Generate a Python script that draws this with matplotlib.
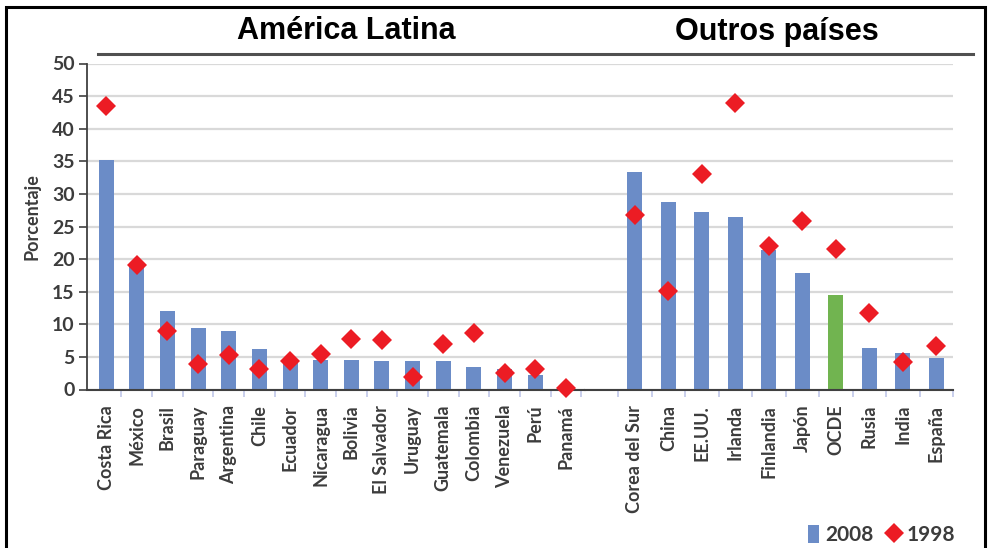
import matplotlib
matplotlib.use("Agg")
import matplotlib.pyplot as plt
import numpy as np
from matplotlib.lines import Line2D
from matplotlib.patches import Patch, Rectangle

# ---- data ----
latam_countries = ["Costa Rica", "México", "Brasil", "Paraguay", "Argentina", "Chile",
                   "Ecuador", "Nicaragua", "Bolivia", "El Salvador", "Uruguay",
                   "Guatemala", "Colombia", "Venezuela", "Perú", "Panamá"]
latam_2008 = [35.2, 19.3, 12.1, 9.4, 8.9, 6.2, 4.6, 4.5, 4.5, 4.3, 4.3, 4.3, 3.5, 3.2, 2.3, 0.0]
latam_1998 = [43.5, 19.1, 9.0, 3.9, 5.3, 3.2, 4.4, 5.4, 7.8, 7.6, 1.9, 7.0, 8.7, 2.5, 3.1, 0.3]

other_countries = ["Corea del Sur", "China", "EE.UU.", "Irlanda", "Finlandia", "Japón",
                   "OCDE", "Rusia", "India", "España"]
other_2008 = [33.4, 28.7, 27.2, 26.5, 21.4, 17.9, 14.5, 6.4, 5.6, 4.9]
other_1998 = [26.7, 15.1, 33.0, 44.0, 22.0, 25.9, 21.6, 11.8, 4.2, 6.7]

yticks = [0, 5, 10, 15, 20, 25, 30, 35, 40, 45, 50]

# ---- style ----
W, H = 990, 548
BLUE = "#6b8cc7"
GREEN = "#71b450"
RED = "#ec1c24"
TXT = "#3c3c3c"
GRID = "#d9d9d9"
SEP = "#c5cbeb"
FONT = ["Lato", "DejaVu Sans"]
MS = 10

plt.rcParams["font.family"] = FONT

fig = plt.figure(figsize=(W / 100, H / 100), dpi=100)


def rect(x0, y0, x1, y1):
    return [x0 / W, 1 - y1 / H, (x1 - x0) / W, (y1 - y0) / H]


ax1 = fig.add_axes(rect(87, 63.5, 585, 389.5))
ax2 = fig.add_axes(rect(585, 63.5, 953, 389.5))

# Latin America panel
n1 = len(latam_countries)
x1 = np.arange(n1)
ax1.set_xlim(-0.62, n1 - 1 + 0.62)
bw1 = 15 / 30.67
ax1.bar(x1, latam_2008, width=bw1, color=BLUE, zorder=2)
ax1.plot(x1, latam_1998, linestyle="none", marker="D", ms=MS, color=RED,
         markeredgewidth=0, zorder=4, clip_on=False)

# other countries panel
n2 = len(other_countries)
x2 = np.arange(n2)
ax2.set_xlim(-1.49, n2 - 1 + 0.49)
bw2 = 15 / 33.52
colors2 = [GREEN if c == "OCDE" else BLUE for c in other_countries]
ax2.bar(x2, other_2008, width=bw2, color=colors2, zorder=2)
ax2.plot(x2, other_1998, linestyle="none", marker="D", ms=MS, color=RED,
         markeredgewidth=0, zorder=4, clip_on=False)

for ax, x, labels in [(ax1, x1, latam_countries), (ax2, x2, other_countries)]:
    ax.set_ylim(0, 50)
    ax.set_yticks(yticks)
    ax.yaxis.grid(True, color=GRID, lw=1.6, zorder=0)
    ax.set_axisbelow(True)
    ax.set_xticks(x)
    ax.set_xticklabels(labels, rotation=90, fontsize=13, fontweight="bold",
                       color=TXT, va="top", ha="center")
    seps = np.arange(-0.5, len(x) - 0.5 + 1e-9, 1.0)
    ax.set_xticks(seps[1:] if ax is ax1 else seps, minor=True)
    ax.tick_params(axis="x", which="major", length=0, pad=11)
    ax.tick_params(axis="x", which="minor", length=5, width=1.3, color=SEP, direction="out")
    for s in ["top", "right"]:
        ax.spines[s].set_visible(False)
    ax.spines["bottom"].set_color("#404040")
    ax.spines["bottom"].set_linewidth(1.5)
    ax.spines["bottom"].set_zorder(3)

ax1.spines["left"].set_color("#404040")
ax1.spines["left"].set_linewidth(1.3)
ax1.tick_params(axis="y", length=6, width=1.2, color="#404040", pad=3,
                labelsize=14, labelcolor=TXT)
for lab in ax1.get_yticklabels():
    lab.set_fontweight("bold")

ax2.spines["left"].set_visible(False)
ax2.tick_params(axis="y", left=False, labelleft=False)

# y label
fig.text(32 / W, 1 - 217 / H, "Porcentaje", rotation=90, ha="center", va="center",
         fontsize=13, fontweight="bold", color=TXT)

# group titles
fig.text(346 / W, 1 - 31 / H, "América Latina", ha="center", va="center",
         fontsize=22, fontweight="bold", color="black", family="Liberation Sans")
fig.text(777 / W, 1 - 32 / H, "Outros países", ha="center", va="center",
         fontsize=22, fontweight="bold", color="black", family="Liberation Sans")
fig.add_artist(Line2D([98 / W, 973 / W], [1 - 54 / H, 1 - 54 / H],
                      color="#505050", lw=2.2, transform=fig.transFigure))

# frame around image
fig.add_artist(Rectangle((6 / W, 1 - 570 / H), (985 - 6) / W, (570 - 7) / H,
                         transform=fig.transFigure, fill=False, edgecolor="black",
                         lw=2.2))

# legend
handles = [Patch(facecolor=BLUE, edgecolor="none"),
           Line2D([], [], linestyle="none", marker="D", ms=MS, color=RED,
                  markeredgewidth=0)]
leg = fig.legend(handles, ["2008", "1998"], loc="center right",
                 bbox_to_anchor=(955 / W, 1 - 535 / H), ncol=2, frameon=False,
                 prop={"family": FONT, "weight": "bold", "size": 15},
                 handlelength=0.55, handleheight=1.0, handletextpad=0.3,
                 columnspacing=0.7, borderpad=0, borderaxespad=0)
for t in leg.get_texts():
    t.set_color(TXT)

fig.savefig("out.png", dpi=100)
